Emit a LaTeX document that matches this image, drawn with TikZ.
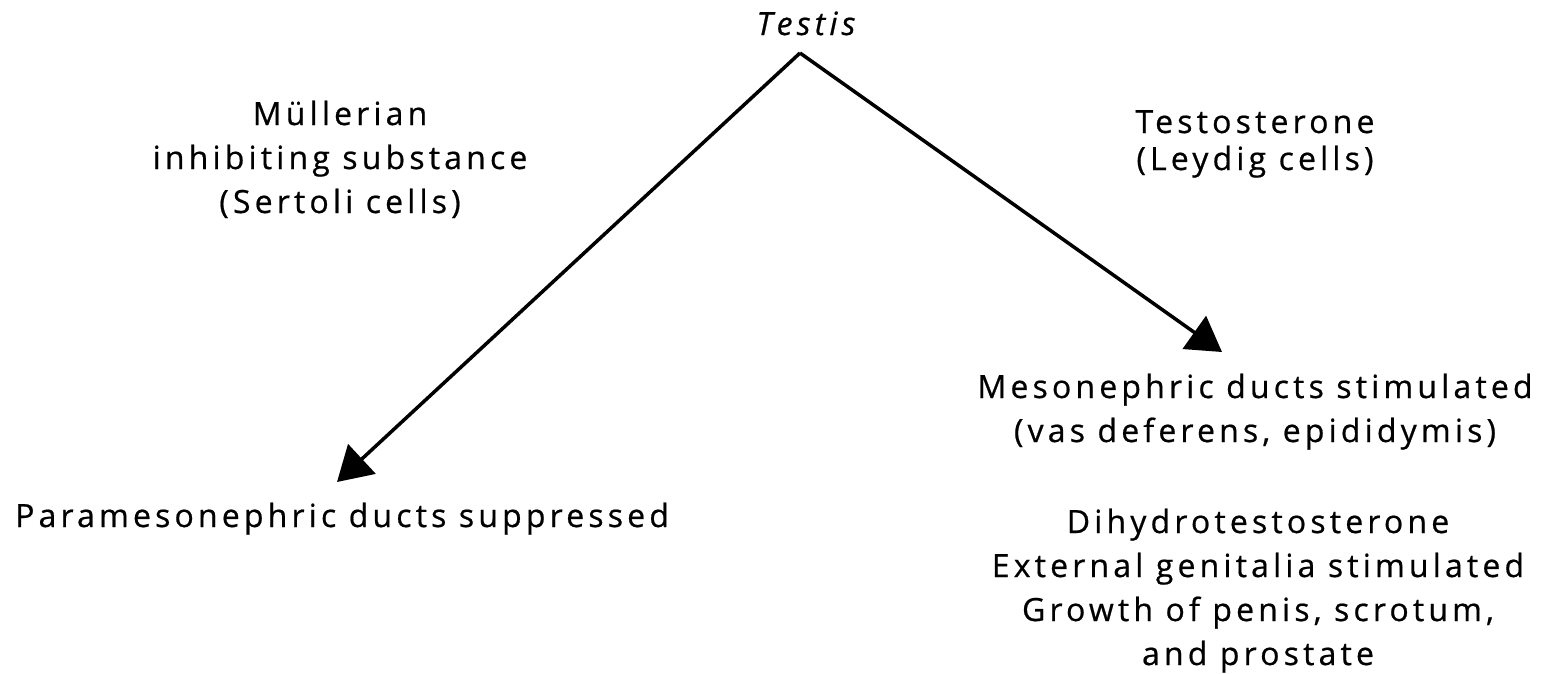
\documentclass[tikz,border=0pt]{standalone}
\usepackage{fontspec}
\setmainfont{Open Sans}[LetterSpace=13, FakeBold=0.6]
\usetikzlibrary{arrows.meta}
\tikzset{
  lbl/.style={inner sep=0pt, align=center, anchor=base, font=\fontsize{32}{44}\selectfont},
  conn/.style={line width=3.5pt, -{Triangle[length=34pt,width=40pt]}},
}
\begin{document}
\begin{tikzpicture}[x=1pt,y=-1pt]
\useasboundingbox (0,0) rectangle (1560,673);
\node[lbl, font=\fontsize{32}{44}\selectfont\itshape] (testis) at (806,35) {Testis};
\coordinate (apex) at (800,53);
\coordinate (ltip) at (337,482);
\coordinate (rtip) at (1222,352);
\node[lbl] (mis) at (340,213) {Müllerian\\inhibiting substance\\(Sertoli cells)};
\node[lbl, font=\fontsize{32}{37}\selectfont] (testo) at (1255,170) {Testosterone\\(Leydig cells)};
\node[lbl] (meso) at (1255,442) {Mesonephric ducts stimulated\\(vas deferens, epididymis)};
\node[lbl, anchor=base west] (para) at (15,527) {Paramesonephric ducts suppressed};
\node[lbl] (dht) at (1258,665) {Dihydrotestosterone\\External genitalia stimulated\\Growth of penis, scrotum,\\and prostate};
\draw[conn] (apex) -- (ltip);
\draw[conn] (apex) -- (rtip);
\end{tikzpicture}
\end{document}
